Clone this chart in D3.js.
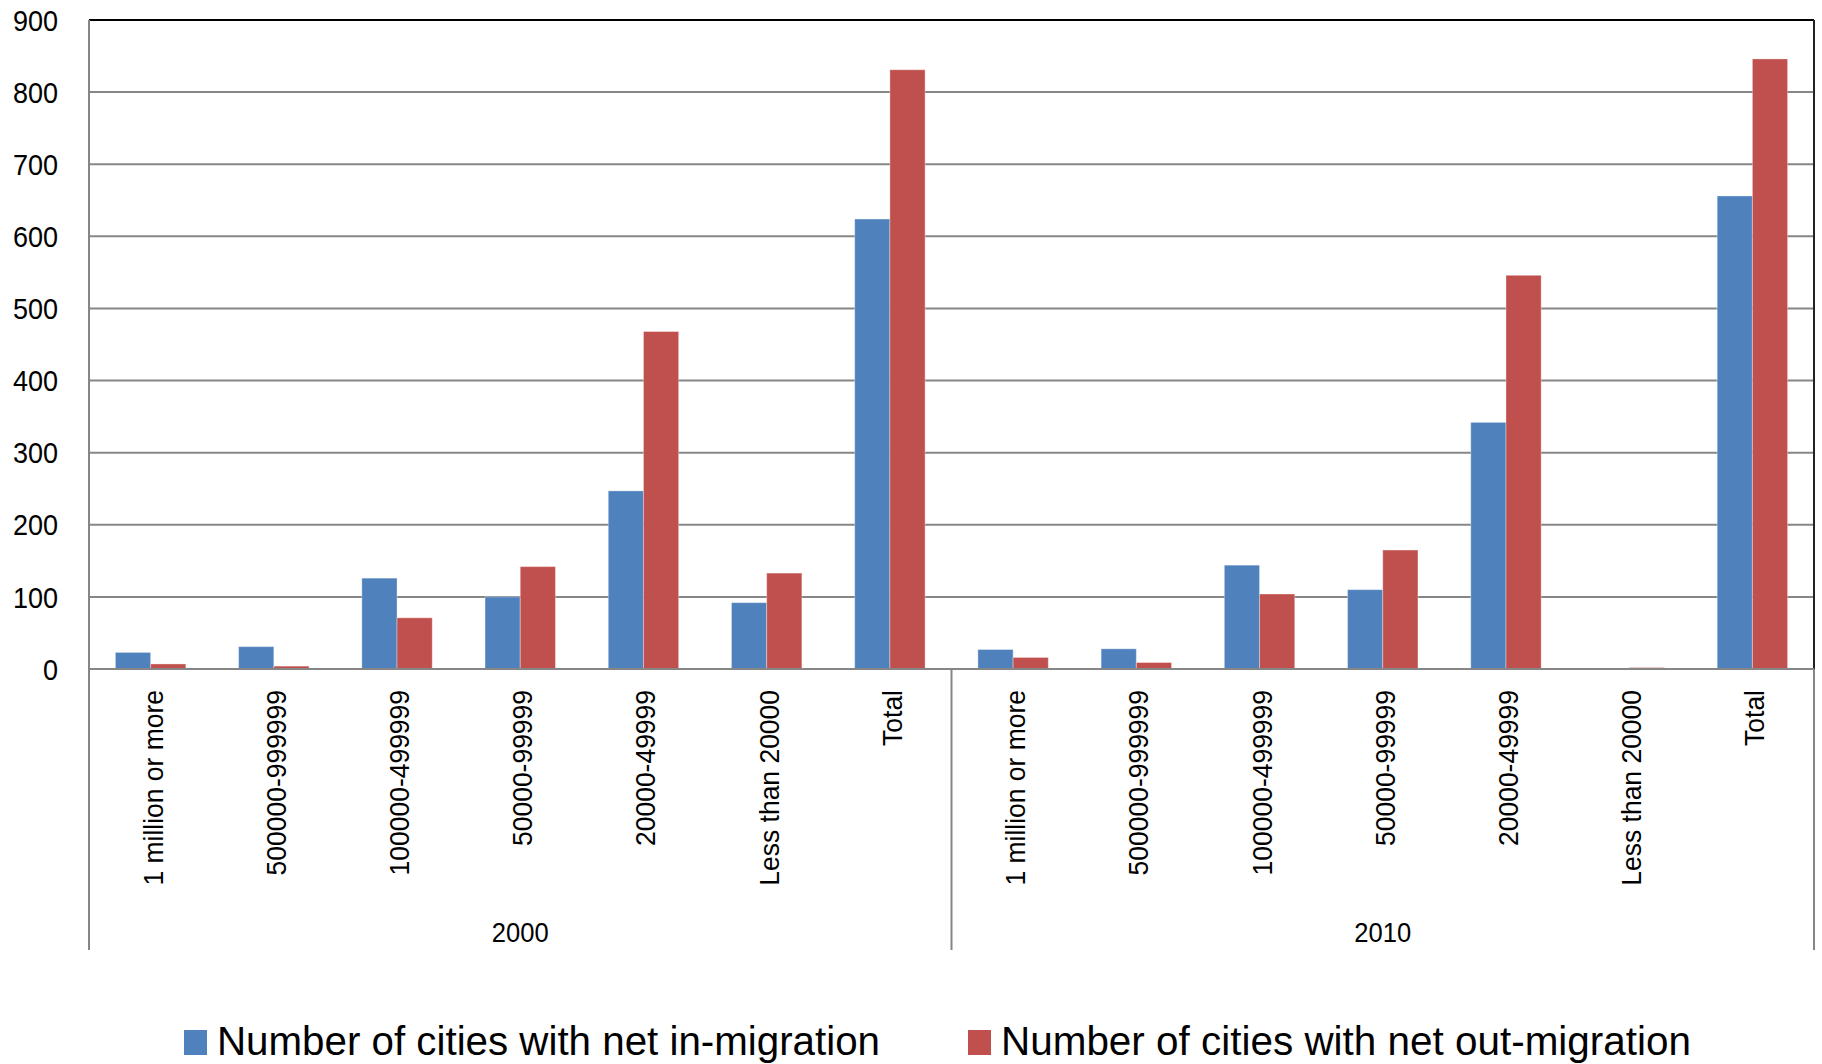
<!DOCTYPE html>
<html>
<head>
<meta charset="utf-8">
<script src="https://cdn.jsdelivr.net/npm/d3@7"></script>
<style>
  body { margin: 0; background: #fff; }
  svg { display: block; }
  text { font-family: "Liberation Sans", Arial, sans-serif; fill: #000; }
</style>
</head>
<body>
<svg id="chart" width="1822" height="1064"></svg>
<script>
// Census years and city-size classes
const years = ["2000", "2010"];
const sizeClasses = ["1 million or more", "500000-999999", "100000-499999", "50000-99999",
                     "20000-49999", "Less than 20000", "Total"];

// Number of cities per size class
const inMigration2000  = [23, 31, 126, 100, 247, 92, 624];
const outMigration2000 = [7, 4, 71, 142, 468, 133, 831];
const inMigration2010  = [27, 28, 144, 110, 342, 1, 656];
const outMigration2010 = [16, 9, 104, 165, 546, 2, 846];

const seriesNames = ["Number of cities with net in-migration", "Number of cities with net out-migration"];
const seriesColors = ["#4F81BD", "#C0504D"];
const yTicks = [0, 100, 200, 300, 400, 500, 600, 700, 800, 900];

// Flat rows: one per (year, size class)
const valuesByYear = {
  "2000": [inMigration2000, outMigration2000],
  "2010": [inMigration2010, outMigration2010]
};
const rows = [];
years.forEach(yr => sizeClasses.forEach((sc, i) => {
  rows.push({ key: yr + "|" + sc, year: yr, label: sc,
              values: valuesByYear[yr].map(s => s[i]) });
}));

const svg = d3.select("#chart");
const plot = { left: 89, right: 1814, top: 20, bottom: 669 };
const axisFoot = 950;
const gridColor = "#868686";

// Narrow the glyphs a little so the text reads taller, like the chart's original face
function condense(sel, factor) {
  sel.each(function () {
    const len = this.getComputedTextLength();
    d3.select(this).attr("textLength", len * factor).attr("lengthAdjust", "spacingAndGlyphs");
  });
}

const x = d3.scaleBand().domain(rows.map(r => r.key)).range([plot.left, plot.right]).padding(0);
const xs = d3.scaleBand().domain([0, 1]).range([0, x.bandwidth()]).paddingInner(0).paddingOuter(0.75);
const y = d3.scaleLinear().domain([0, 900]).range([plot.bottom, plot.top]);

// Horizontal gridlines
svg.append("g").selectAll("line").data(yTicks.filter(t => t > 0 && t < 900)).join("line")
  .attr("x1", plot.left).attr("x2", plot.right)
  .attr("y1", d => y(d)).attr("y2", d => y(d))
  .attr("stroke", gridColor).attr("stroke-width", 2);

// Plot frame: top and right edges
svg.append("line").attr("x1", plot.left).attr("x2", plot.right)
  .attr("y1", y(900)).attr("y2", y(900)).attr("stroke", "#000").attr("stroke-width", 2);
svg.append("line").attr("x1", plot.right).attr("x2", plot.right)
  .attr("y1", plot.top).attr("y2", plot.bottom).attr("stroke", "#222").attr("stroke-width", 2);

// Bars
const groups = svg.append("g").selectAll("g").data(rows).join("g")
  .attr("transform", d => `translate(${x(d.key)},0)`);
groups.selectAll("rect").data(d => d.values.map((v, i) => ({ v, i }))).join("rect")
  .attr("x", d => xs(d.i))
  .attr("width", xs.bandwidth())
  .attr("y", d => y(d.v))
  .attr("height", d => y(0) - y(d.v))
  .attr("fill", d => seriesColors[d.i])
  .attr("stroke", "rgba(255,255,255,0.35)")
  .attr("stroke-width", 1);

// Y axis
const yAxis = svg.append("g").attr("transform", `translate(${plot.left},0)`)
  .call(d3.axisLeft(y).tickValues(yTicks).tickSize(0).tickPadding(31));
yAxis.select(".domain").remove();
yAxis.selectAll("text").attr("dy", "0.34em")
  .style("font-size", "30px").style("font-family", "'Liberation Sans', Arial, sans-serif")
  .call(condense, 0.9);
svg.append("line").attr("x1", plot.left).attr("x2", plot.left)
  .attr("y1", plot.top).attr("y2", axisFoot).attr("stroke", gridColor).attr("stroke-width", 2);

// X axis baseline
svg.append("line").attr("x1", plot.left).attr("x2", plot.right)
  .attr("y1", y(0)).attr("y2", y(0)).attr("stroke", gridColor).attr("stroke-width", 2);

// Year dividers below the axis
const yearEdges = [plot.left + x.step() * sizeClasses.length, plot.right];
svg.append("g").selectAll("line").data(yearEdges).join("line")
  .attr("x1", d => d).attr("x2", d => d)
  .attr("y1", y(0)).attr("y2", axisFoot)
  .attr("stroke", gridColor).attr("stroke-width", 2);

// Size-class labels (rotated)
svg.append("g").selectAll("text").data(rows).join("text")
  .attr("transform", d => `translate(${x(d.key) + x.bandwidth() / 2 + 12},690) rotate(-90)`)
  .attr("text-anchor", "end")
  .style("font-size", "28px")
  .text(d => d.label)
  .call(condense, 0.945);

// Year labels
svg.append("g").selectAll("text").data(years).join("text")
  .attr("x", (d, i) => plot.left + x.step() * sizeClasses.length * (i + 0.5))
  .attr("y", 942)
  .attr("text-anchor", "middle")
  .style("font-size", "27.5px")
  .text(d => d)
  .call(condense, 0.93);

// Legend
const legendItems = [
  { name: seriesNames[0], color: seriesColors[0], x: 184, len: 663 },
  { name: seriesNames[1], color: seriesColors[1], x: 968, len: 690 }
];
const lg = svg.append("g").selectAll("g").data(legendItems).join("g");
lg.append("rect").attr("x", d => d.x).attr("y", 1030).attr("width", 23).attr("height", 25)
  .attr("fill", d => d.color);
lg.append("text").attr("x", d => d.x + 33).attr("y", 1055)
  .attr("textLength", d => d.len).attr("lengthAdjust", "spacingAndGlyphs")
  .style("font-size", "40px")
  .text(d => d.name);
</script>
</body>
</html>
